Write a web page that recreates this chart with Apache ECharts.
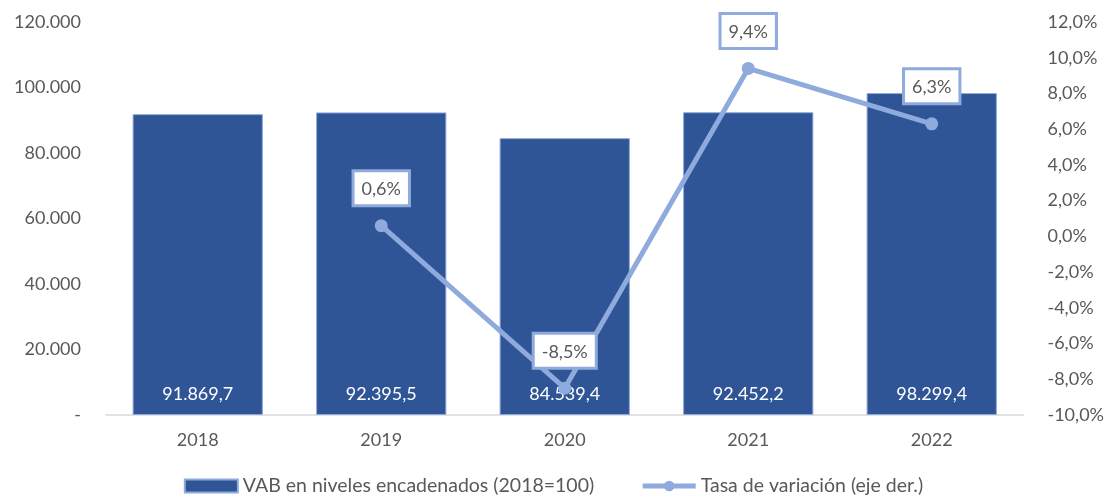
<!DOCTYPE html>
<html>
<head>
<meta charset="utf-8">
<script src="https://cdn.jsdelivr.net/npm/echarts@6/dist/echarts.min.js"></script>
<style>
  html, body { margin: 0; padding: 0; background: #fff; }
  #chart { width: 1107px; height: 504px; }
</style>
</head>
<body>
<div id="chart"></div>
<script>
var years = ['2018', '2019', '2020', '2021', '2022'];
var vab = [91869.7, 92395.5, 84539.4, 92452.2, 98299.4];
var tasa = [null, 0.6, -8.5, 9.4, 6.3];

var textColor = '#595959';
var barColor = '#2F5597';
var lineColor = '#8FAADC';

function miles(v, dec) {
  var parts = v.toFixed(dec).split('.');
  var ent = parts[0].replace(/\B(?=(\d{3})+(?!\d))/g, '.');
  return parts.length > 1 ? ent + ',' + parts[1] : ent;
}
function pct(v) {
  return v.toFixed(1).replace('.', ',') + '%';
}

var myChart = echarts.init(document.getElementById('chart'));
myChart.setOption({
  animation: false,
  textStyle: { fontFamily: 'Lato', fontSize: 18, color: textColor },
  grid: { left: 106, right: 82, top: 22, bottom: 89 },
  legend: {
    bottom: 3,
    left: 'center',
    itemWidth: 53,
    itemHeight: 13,
    itemGap: 46,
    textStyle: { fontSize: 19.5, color: textColor, fontFamily: 'Lato' },
    data: [
      { name: 'VAB en niveles encadenados (2018=100)', icon: 'rect' },
      { name: 'Tasa de variación (eje der.)', lineStyle: { width: 5 } }
    ]
  },
  xAxis: {
    type: 'category',
    data: years,
    axisTick: { show: false },
    axisLine: { lineStyle: { color: '#D9D9D9', width: 1.5 } },
    axisLabel: { color: textColor, fontSize: 18, margin: 16 }
  },
  yAxis: [
    {
      type: 'value',
      min: 0, max: 120000, interval: 20000,
      splitLine: { show: false },
      axisLabel: {
        color: textColor, fontSize: 18, margin: 25,
        formatter: function (v) { return v === 0 ? '-' : miles(v, 0); }
      }
    },
    {
      type: 'value',
      min: -10, max: 12, interval: 2,
      splitLine: { show: false },
      axisLabel: {
        color: textColor, fontSize: 18, margin: 24,
        formatter: function (v) { return pct(v); }
      }
    }
  ],
  series: [
    {
      name: 'VAB en niveles encadenados (2018=100)',
      type: 'bar',
      data: vab,
      barCategoryGap: '29%',
      itemStyle: { color: barColor, borderColor: lineColor, borderWidth: 1 },
      label: {
        show: true,
        position: 'insideBottom',
        distance: 12,
        color: '#fff',
        fontSize: 18,
        formatter: function (p) { return miles(p.value, 1); }
      }
    },
    {
      name: 'Tasa de variación (eje der.)',
      type: 'line',
      yAxisIndex: 1,
      data: tasa,
      symbol: 'circle',
      symbolSize: 13,
      lineStyle: { color: lineColor, width: 5 },
      itemStyle: { color: lineColor },
      label: {
        show: true,
        position: 'top',
        distance: 15,
        color: textColor,
        fontSize: 18,
        backgroundColor: '#fff',
        borderColor: lineColor,
        borderWidth: 3,
        padding: [8, 7, 6, 7],
        formatter: function (p) { return pct(p.value); }
      }
    }
  ]
});
</script>
</body>
</html>
